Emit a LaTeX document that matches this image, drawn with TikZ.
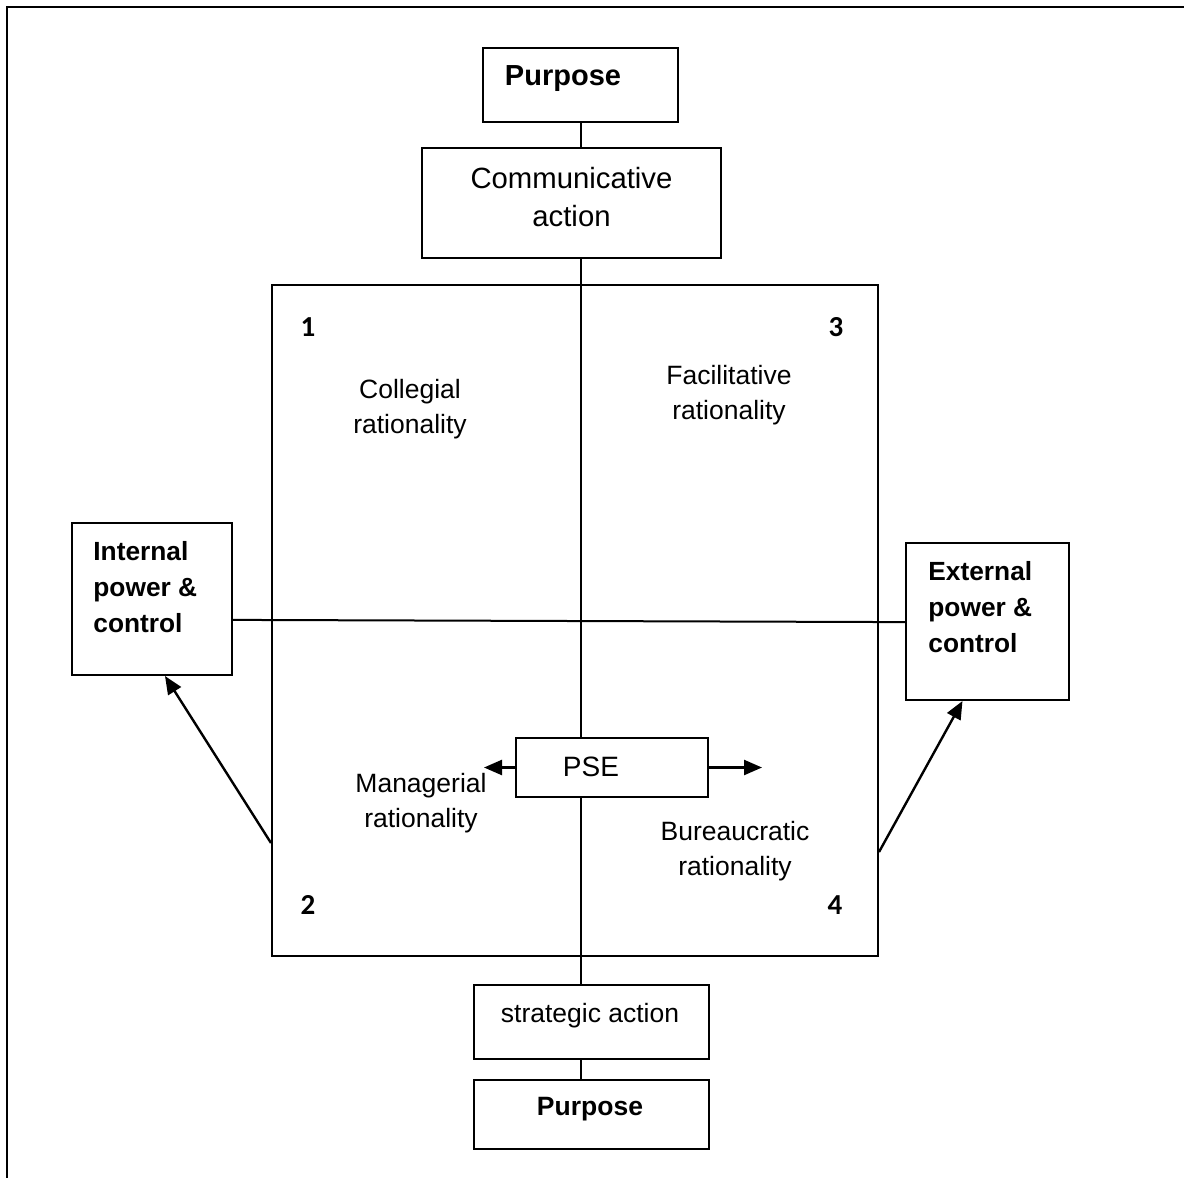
\documentclass[tikz,border=0pt]{standalone}
\usepackage{fontspec}
\setmainfont{Liberation Sans}
\newfontfamily\numfont{Carlito}
\usetikzlibrary{arrows.meta}
\begin{document}
\begin{tikzpicture}[x=0.5pt,y=-0.5pt,
  box/.style={draw, line width=1pt, inner sep=0pt},
  txt/.style={inner sep=0pt, align=center, font=\fontsize{13.25}{17.5}\selectfont},
  btxt/.style={inner sep=0pt, align=left, font=\bfseries\fontsize{13.15}{18}\selectfont},
  num/.style={inner sep=0pt, font=\numfont\bfseries\fontsize{14.5}{16}\selectfont},
  conn/.style={line width=1pt},
  arr/.style={line width=1.2pt, -{Triangle[length=9pt,width=7.5pt]}}]
\useasboundingbox (0,0) rectangle (1184,1178);
% page frame (top and left edges)
\draw[line width=1.3pt] (7,1178) -- (7,7) -- (1184,7);

% top column
\node[box, minimum width=97.5pt, minimum height=37pt] (p1) at (580.5,85) {};
\node[txt, font=\bfseries\fontsize{14.5}{18}\selectfont] (p1t) at (563,79) {Purpose};
\node[box, minimum width=149.5pt, minimum height=55pt] (comm) at (571.5,203) {};
\node[txt, font=\fontsize{14.65}{19}\selectfont] (commt) at (571.5,197) {Communicative\\action};

% central square
\node[box, minimum width=303pt, minimum height=335.5pt] (sq) at (575,620.5) {};

% side boxes
\node[box, minimum width=80pt, minimum height=76pt] (int) at (152,599) {};
\node[btxt, anchor=west] (intt) at (93,587) {Internal\\power \&\\control};
\node[box, minimum width=81.5pt, minimum height=78.5pt] (ext) at (987.5,621.5) {};
\node[btxt, anchor=west] (extt) at (928,607) {External\\power \&\\control};

% PSE
\node[box, fill=white, minimum width=96.3pt, minimum height=29.5pt] (pse) at (612,767.5) {};
\node[txt, font=\fontsize{14}{17}\selectfont] (pset) at (591,767) {PSE};

% bottom column
\node[box, minimum width=117.5pt, minimum height=37pt] (strat) at (591,1022) {};
\node[txt] (stratt) at (590,1016) {strategic action};
\node[box, minimum width=117.5pt, minimum height=34.5pt] (p2) at (591,1114.5) {};
\node[txt, font=\bfseries\fontsize{13.25}{17}\selectfont] (p2t) at (590,1109) {Purpose};

% quadrant labels
\node[txt] (coll) at (410,409) {Collegial\\rationality};
\node[txt] (fac) at (729,395) {Facilitative\\rationality};
\node[txt] (man) at (421,803) {Managerial\\rationality};
\node[txt] (bur) at (735,851) {Bureaucratic\\rationality};
\node[num] (n1) at (308,327) {1};
\node[num] (n3) at (836,327) {3};
\node[num] (n2) at (308,905) {2};
\node[num] (n4) at (835,905) {4};

% connectors
\coordinate (ml) at (484,768);
\coordinate (mr) at (762,768);
\draw[conn] (p1.south) -- (p1.south |- comm.north);
\draw[conn] (comm.south -| p1.south) -- (pse.north -| p1.south);
\draw[conn] (pse.south -| p1.south) -- (strat.north -| p1.south);
\draw[conn] (strat.south -| p1.south) -- (p2.north -| p1.south);
\draw[conn] ([yshift=0.8pt]int.east |- ext.west) -- ([yshift=-0.3pt]ext.west);
\draw[arr] (pse.west) -- (pse.west -| ml);
\draw[arr] (pse.east) -- (pse.east -| mr);
\draw[arr] (sq.west |- 0,843) -- ([xshift=6.5pt]int.south);
\draw[arr] (sq.east |- 0,852) -- ([xshift=-12.5pt]ext.south);
\end{tikzpicture}
\end{document}
